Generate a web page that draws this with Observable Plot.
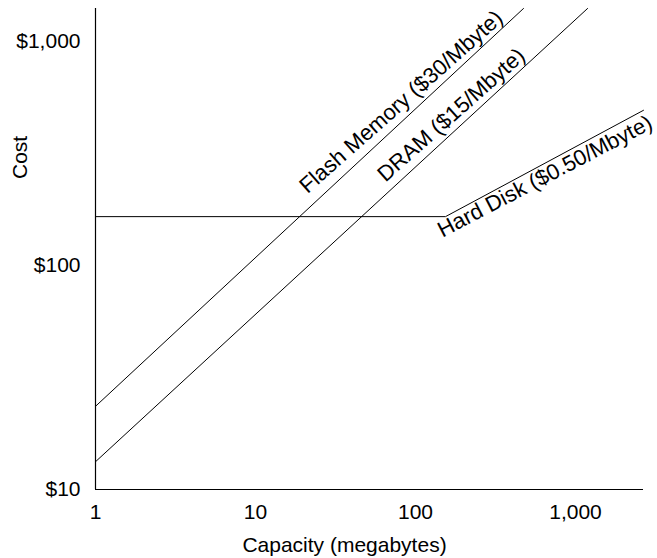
<!DOCTYPE html>
<html><head><meta charset="utf-8">
<script src="https://cdn.jsdelivr.net/npm/d3@7"></script>
<script src="https://cdn.jsdelivr.net/npm/@observablehq/plot@0.6"></script>
<style>body{margin:0;background:#fff}</style>
</head><body><div id="chart"></div>
<script>
// ---- data ----
const xTicks = [1, 10, 100, 1000];
const yTicks = [10, 100, 1000];
const flashX = [1, 473];
const flashY = [23.5, 1400];
const dramX = [1, 1189];
const dramY = [13.3, 1400];
const diskX = [1, 154, 2660];
const diskY = [165, 165, 492];
const seriesNames = ["Flash Memory ($30/Mbyte)", "DRAM ($15/Mbyte)", "Hard Disk ($0.50/Mbyte)"];
const labelAtX = [21.1, 64.9, 147.5];
const xLabel = "Capacity (megabytes)";
const yLabel = "Cost";

const series = [
  {name: seriesNames[0], xs: flashX, ys: flashY},
  {name: seriesNames[1], xs: dramX, ys: dramY},
  {name: seriesNames[2], xs: diskX, ys: diskY}
];
const lineRows = series.flatMap(s => s.xs.map((x, i) => ({series: s.name, x, y: s.ys[i]})));

// y on a polyline (log-log) at a given x, for label placement
function yAt(xs, ys, x) {
  for (let i = 0; i < xs.length - 1; i++) {
    if (x >= xs[i] && x <= xs[i + 1]) {
      const t = (Math.log(x) - Math.log(xs[i])) / (Math.log(xs[i + 1]) - Math.log(xs[i]));
      return Math.exp(Math.log(ys[i]) + t * (Math.log(ys[i + 1]) - Math.log(ys[i])));
    }
  }
  return ys[ys.length - 1];
}
const labelStyle = [
  {rotate: -41.5, dy: -15},
  {rotate: -41.5, dy: -12},
  {rotate: -27.5, dy: 21}
];
const labelRows = series.map((s, i) => ({text: s.name, x: labelAtX[i], y: yAt(s.xs, s.ys, labelAtX[i])}));

const font = "'Liberation Sans', Arial, Helvetica, sans-serif";
const fs = 21;
const lfs = 22;

const plot = Plot.plot({
  width: 657,
  height: 558,
  marginLeft: 95,
  marginRight: 14,
  marginTop: 8,
  marginBottom: 69,
  style: {fontFamily: font, fontSize: fs + "px", color: "black", background: "white"},
  x: {type: "log", domain: [1, 2660], ticks: xTicks, tickFormat: d3.format(","), tickSize: 0, tickPadding: 15, label: null},
  y: {type: "log", domain: [10, 1400], ticks: yTicks, tickFormat: d => "$" + d3.format(",")(d), tickSize: 0, tickPadding: 15, label: null},
  marks: [
    Plot.ruleX([1], {stroke: "black", strokeWidth: 1.2}),
    Plot.ruleY([10], {stroke: "black", strokeWidth: 1.2}),
    Plot.line(lineRows, {x: "x", y: "y", z: "series", stroke: "black", strokeWidth: 1}),
    ...labelRows.map((r, i) => Plot.text([r], {
      x: "x", y: "y", text: "text", rotate: labelStyle[i].rotate, dy: labelStyle[i].dy,
      textAnchor: "start", lineAnchor: "bottom", fontSize: lfs, fill: "black"
    })),
    Plot.text([xLabel], {frameAnchor: "bottom", dx: -25, dy: 55.5, lineAnchor: "middle", fontSize: fs, fill: "black"}),
    Plot.text([yLabel], {frameAnchor: "left", dx: -75, dy: -70, rotate: -90, lineAnchor: "middle", fontSize: fs, fill: "black"})
  ]
});
document.getElementById("chart").appendChild(plot);
</script>
</body></html>
